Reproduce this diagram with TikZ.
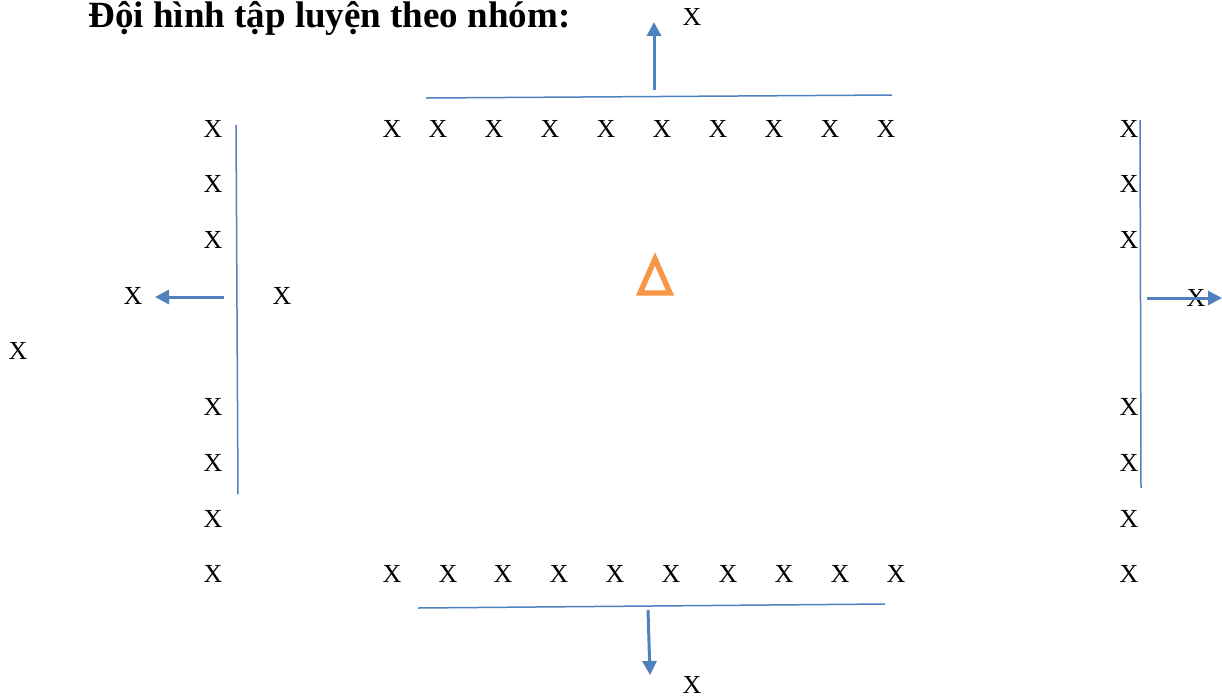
\documentclass[tikz,border=0pt]{standalone}
\usepackage{fontspec}
\setmainfont{Liberation Serif}
\usetikzlibrary{arrows.meta}
\definecolor{lineblue}{HTML}{4F81BD}
\definecolor{coneorange}{HTML}{F79646}
\tikzset{
xnode/.style={inner sep=0pt, font=\fontsize{13}{15}\selectfont},
titlenode/.style={inner sep=0pt, anchor=base west, font=\fontsize{18.5}{21}\selectfont\bfseries},
blueline/.style={draw=lineblue, line width=0.75pt},
bluearrow/.style={draw=lineblue, line width=1.5pt, -{Triangle[length=7pt,width=7pt]}},
conetri/.style={draw=coneorange, line width=2.7pt, line join=miter},
}

\begin{document}
\begin{tikzpicture}[x=0.5pt,y=-0.5pt]
\useasboundingbox (0,0) rectangle (1222,698);
\node[titlenode] at (88,27) (title) {Đội hình tập luyện theo nhóm:};
%top group
\node[xnode] at (692,17) (topx) {X};
\node[xnode] at (392,129) (t1) {X};
\node[xnode] at (438,129) (t2) {X};
\node[xnode] at (494,129) (t3) {X};
\node[xnode] at (550,129) (t4) {X};
\node[xnode] at (606,129) (t5) {X};
\node[xnode] at (662,129) (t6) {X};
\node[xnode] at (718,129) (t7) {X};
\node[xnode] at (774,129) (t8) {X};
\node[xnode] at (830,129) (t9) {X};
\node[xnode] at (886,129) (t10) {X};
\coordinate (tl1) at (426,98);
\coordinate (tl2) at (892,95);
\coordinate (ta) at (654,90);
\coordinate (tb) at (654,22);
\draw[blueline] (tl1) to (tl2);
\draw[bluearrow] (ta) to (tb);
%left group
\node[xnode] at (213,129) (l1) {X};
\node[xnode] at (213,184) (l2) {X};
\node[xnode] at (213,240) (l3) {X};
\node[xnode] at (213,407) (l4) {X};
\node[xnode] at (213,463) (l5) {X};
\node[xnode] at (213,519) (l6) {X};
\node[xnode] at (213,574) (l7) {X};
\node[xnode] at (133,296) (leftx) {X};
\node[xnode] at (282,296) (innerx) {X};
\node[xnode] at (18,351) (farx) {X};
\coordinate (ll1) at (236,125);
\coordinate (ll2) at (238,494);
\coordinate (la) at (224,297);
\coordinate (lb) at (155,297);
\draw[blueline] (ll1) to (ll2);
\draw[bluearrow] (la) to (lb);
%right group
\node[xnode] at (1129,129) (r1) {X};
\node[xnode] at (1129,184) (r2) {X};
\node[xnode] at (1129,240) (r3) {X};
\node[xnode] at (1129,407) (r4) {X};
\node[xnode] at (1129,463) (r5) {X};
\node[xnode] at (1129,519) (r6) {X};
\node[xnode] at (1129,574) (r7) {X};
\node[xnode] at (1196,298) (rightx) {X};
\coordinate (rl1) at (1140,120);
\coordinate (rl2) at (1141,488);
\coordinate (ra) at (1147,298);
\coordinate (rb) at (1222,298);
\draw[blueline] (rl1) to (rl2);
\draw[bluearrow] (ra) to (rb);
%bottom group
\node[xnode] at (392,574) (b1) {X};
\node[xnode] at (448,574) (b2) {X};
\node[xnode] at (503,574) (b3) {X};
\node[xnode] at (559,574) (b4) {X};
\node[xnode] at (615,574) (b5) {X};
\node[xnode] at (671,574) (b6) {X};
\node[xnode] at (728,574) (b7) {X};
\node[xnode] at (784,574) (b8) {X};
\node[xnode] at (840,574) (b9) {X};
\node[xnode] at (896,574) (b10) {X};
\node[xnode] at (692,685) (botx) {X};
\coordinate (bl1) at (418,608);
\coordinate (bl2) at (885,604);
\coordinate (ba) at (648,610);
\coordinate (bb) at (650,675);
\draw[blueline] (bl1) to (bl2);
\draw[bluearrow] (ba) to (bb);
%teacher
\draw[conetri] (655,259) -- (640,293) -- (670,293) -- cycle;
\end{tikzpicture}
\end{document}
